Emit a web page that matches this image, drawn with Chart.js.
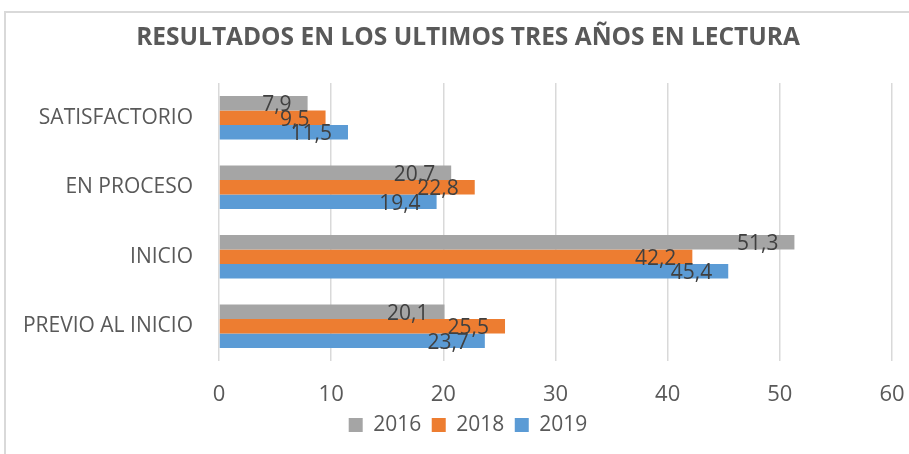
<!DOCTYPE html>
<html>
<head>
<meta charset="utf-8">
<script src="https://cdn.jsdelivr.net/npm/chart.js@4/dist/chart.umd.min.js"></script>
<style>
  body { margin: 0; background: #fff; }
  #marco { position: absolute; left: 4px; top: 11px; width: 930px; height: 470px;
           border-left: 2px solid #d9d9d9; border-top: 2px solid #d9d9d9; }
  #caja { position: absolute; left: 0; top: 0; width: 909px; height: 454px; }
</style>
</head>
<body>
<div id="marco"></div>
<div id="caja"><canvas id="grafico" width="909" height="454"></canvas></div>
<script>
const categorias = ["SATISFACTORIO", "EN PROCESO", "INICIO", "PREVIO AL INICIO"];
const anios = ["2016", "2018", "2019"];
const valores2016 = [7.9, 20.7, 51.3, 20.1];
const valores2018 = [9.5, 22.8, 42.2, 25.5];
const valores2019 = [11.5, 19.4, 45.4, 23.7];
const colores = ["#A5A5A5", "#ED7D31", "#5B9BD5"];

const fuente = "'Open Sans', sans-serif";

// etiquetas de valor dentro del extremo de cada barra
const etiquetas = {
    id: "etiquetas",
    afterDatasetsDraw(chart) {
        const ctx = chart.ctx;
        ctx.save();
        ctx.font = "21px " + fuente;
        ctx.fillStyle = "#404040";
        ctx.textAlign = "right";
        ctx.textBaseline = "middle";
        chart.data.datasets.forEach((ds, i) => {
            chart.getDatasetMeta(i).data.forEach((bar, j) => {
                const texto = ds.data[j].toFixed(1).replace(".", ",");
                ctx.fillText(texto, bar.x - 16, bar.y + 2);
            });
        });
        ctx.restore();
    }
};

// el titulo y la leyenda van centrados un poco mas a la derecha
const centrar = {
    id: "centrar",
    afterLayout(chart) {
        chart.titleBlock.left += 29;
        chart.legend.left += 29;
    }
};

new Chart(document.getElementById("grafico").getContext("2d"), {
    type: "bar",
    data: {
        labels: categorias,
        datasets: [
            { label: anios[0], data: valores2016, backgroundColor: colores[0] },
            { label: anios[1], data: valores2018, backgroundColor: colores[1] },
            { label: anios[2], data: valores2019, backgroundColor: colores[2] }
        ]
    },
    options: {
        indexAxis: "y",
        responsive: false,
        animation: false,
        categoryPercentage: 0.625,
        barPercentage: 1,
        layout: { padding: { left: 0, right: 2, top: 0, bottom: 8.5 } },
        scales: {
            x: {
                min: 0, max: 60,
                ticks: { stepSize: 10, color: "#595959", padding: 23, font: { family: fuente, size: 22, lineHeight: 1 } },
                grid: { color: "#d9d9d9", lineWidth: 1.5, drawTicks: false },
                border: { display: false },
                afterFit(scale) {
                    scale.height = 43;
                    scale.paddingRight = 17;
                }
            },
            y: {
                ticks: { color: "#595959", padding: 26, font: { family: fuente, size: 21 } },
                grid: { display: false, drawTicks: false },
                border: { display: false },
                afterFit(scale) { scale.width = 219; }
            }
        },
        plugins: {
            title: {
                display: true,
                text: "RESULTADOS EN LOS ULTIMOS TRES AÑOS EN LECTURA",
                color: "#595959",
                font: { family: fuente, size: 24.5, weight: "bold" },
                padding: { top: 23, bottom: 30.5 }
            },
            legend: {
                position: "bottom",
                labels: { color: "#595959", boxWidth: 14, boxHeight: 14, padding: 10.5, font: { family: fuente, size: 21 } }
            },
            tooltip: { enabled: false }
        }
    },
    plugins: [etiquetas, centrar]
});
</script>
</body>
</html>
